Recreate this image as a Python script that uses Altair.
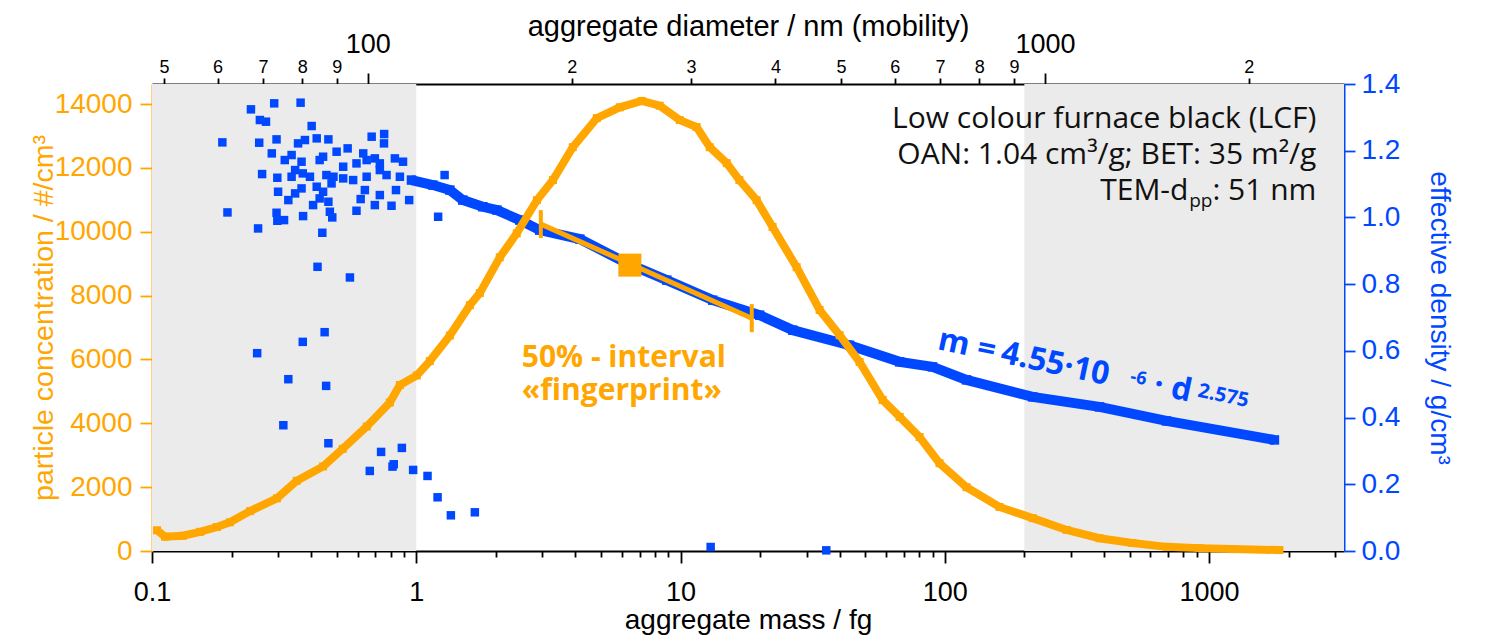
import altair as alt
import pandas as pd

# ---------------- data ----------------
# particle concentration (orange, left axis)
conc_mass = [0.1045, 0.112, 0.131, 0.152, 0.176, 0.197, 0.235, 0.297, 0.353, 0.444,
             0.527, 0.650, 0.794, 0.867, 1.005, 1.125, 1.34, 1.595, 1.74, 2.07,
             2.40, 2.86, 3.29, 3.91, 4.82, 5.89, 7.13, 8.34, 9.93, 11.5,
             12.9, 14.96, 16.7, 19.4, 22.3, 27.5, 33.6, 40.0, 47.6, 58.2,
             67.5, 80.3, 95.5, 120.8, 161, 215, 289, 385, 513, 690,
             920, 1225, 1846]
conc_vals = [650, 450, 480, 600, 750, 900, 1250, 1650, 2200, 2650,
             3200, 3900, 4650, 5200, 5500, 5950, 6750, 7700, 8080, 9200,
             9950, 10990, 11620, 12650, 13560, 13900, 14100, 13950, 13500, 13280,
             12650, 12150, 11620, 10990, 10150, 8890, 7550, 6760, 5920, 4730,
             4200, 3570, 2750, 2000, 1380, 1030, 660, 400, 250, 130,
             90, 60, 30]

# effective density, smooth part (blue, right axis)
rho_curve_mass = [0.959, 1.156, 1.34, 1.50, 1.786, 2.02, 2.465, 2.93, 4.16, 6.26,
                  8.87, 13.24, 19.93, 26.6, 43.6, 67.5, 89.9, 120.8, 215, 385,
                  690, 1767]
rho_curve_vals = [1.112, 1.097, 1.082, 1.052, 1.032, 1.022, 0.992, 0.962, 0.935, 0.863,
                  0.812, 0.752, 0.707, 0.662, 0.617, 0.567, 0.552, 0.513, 0.462, 0.432,
                  0.390, 0.333]

# effective density, scattered points
rho_scatter_mass = [0.1846, 0.193, 0.2368, 0.290, 0.365, 0.256, 0.270, 0.2545, 0.296, 0.284,
                    0.261, 0.298, 0.300, 0.296, 0.298, 0.316, 0.252, 0.402, 0.318, 0.3375,
                    0.357, 0.379, 0.420, 0.465, 0.4995, 0.550, 0.678, 0.756, 0.755, 0.630,
                    0.368, 0.348, 0.3375, 0.372, 0.396, 0.431, 0.444, 0.457, 0.486, 0.478,
                    0.529, 0.529, 0.577, 0.594, 0.649, 0.697, 0.728, 0.649, 0.728, 0.772,
                    0.830, 0.891, 0.867, 0.420, 0.444, 0.431, 0.407, 0.465, 0.471, 0.481,
                    0.328, 0.348, 0.368, 0.373, 0.441, 0.594, 0.616, 0.639, 0.697, 0.728,
                    0.806, 0.838, 0.940, 0.423, 0.561, 0.250, 0.328, 0.372, 0.450, 0.456,
                    0.314, 0.465, 0.667, 0.736, 0.813, 0.822, 0.882, 0.973, 1.103, 1.204,
                    1.352, 1.666, 13.0, 35.6, 1.28, 1.21]
rho_scatter_vals = [1.225, 1.015, 1.324, 1.342, 1.344, 1.292, 1.287, 1.224, 1.234, 1.192,
                    1.130, 1.119, 1.077, 1.014, 0.990, 0.992, 0.967, 1.274, 1.172, 1.187,
                    1.222, 1.232, 1.237, 1.234, 1.197, 1.207, 1.242, 1.250, 1.222, 1.192,
                    1.167, 1.142, 1.122, 1.132, 1.122, 1.172, 1.182, 1.127, 1.122, 1.102,
                    1.152, 1.117, 1.112, 1.162, 1.172, 1.177, 1.162, 1.122, 1.142, 1.127,
                    1.177, 1.167, 1.122, 1.092, 1.077, 1.057, 1.037, 1.047, 1.017, 1.000,
                    1.052, 1.072, 1.087, 1.004, 0.954, 1.020, 1.055, 1.082, 1.037, 1.067,
                    1.035, 1.082, 1.052, 0.852, 0.820, 0.593, 0.515, 0.627, 0.656, 0.495,
                    0.377, 0.323, 0.240, 0.297, 0.253, 0.260, 0.309, 0.243, 0.225, 0.161,
                    0.107, 0.116, 0.012, 0.002, 1.127, 1.002]

# 50 % interval ("fingerprint") on the density curve
fp_mass = [2.96, 18.6]
fp_rho = [0.980, 0.698]
fp_median_mass = [6.43]
fp_median_rho = [0.857]

# shaded mass ranges
shade_start = [0.1, 200]
shade_end = [1, 3240]

# axes
mass_domain = [0.1, 3240]
conc_domain = [0, 14630]
rho_domain = [0, 1.4]
diam_domain = [48.0, 2765]
mass_ticks = [round(k * 10 ** e, 6) for e in range(-1, 4) for k in range(1, 10) if k * 10 ** e <= 3000]
mass_decades = [0.1, 1, 10, 100, 1000]
conc_ticks = [0, 2000, 4000, 6000, 8000, 10000, 12000, 14000]
rho_ticks = [0.0, 0.2, 0.4, 0.6, 0.8, 1.0, 1.2, 1.4]
diam_ticks = [50, 60, 70, 80, 90, 100, 200, 300, 400, 500, 600, 700, 800, 900, 1000, 2000]

# annotation texts
info_lines = ["Low colour furnace black (LCF)", "OAN: 1.04 cm³/g; BET: 35 m²/g"]
info_mass = [2547, 2547]
info_conc = [13248, 12120]
tem_parts = ["TEM-d", "pp", ": 51 nm"]
tem_conc = [10993]
fp_lines = ["50% - interval", "«fingerprint»"]
fp_text_mass = [2.508, 2.508]
fp_text_conc = [5763, 4729]
eq_parts = ["m =", "4.55·10", "-6", "· d", "2.575"]
eq_mass = [93.1, 161.2, 500, 610, 900]
eq_conc = [6326, 5913, 5300, 4926, 4840]
eq_sizes = [32, 32, 18, 32, 20]

# ---------------- styling ----------------
ORANGE = "#FFA600"
BLUE = "#0048FF"
AXF = "Liberation Sans"
TXF = "Open Sans"
W, H = 1192, 467

def xs():
    return alt.Scale(type="log", domain=mass_domain, nice=False)

def x_enc(field, axis=None):
    return alt.X(field, type="quantitative", scale=xs(), axis=axis)

def yc(field, axis=None):
    return alt.Y(field, type="quantitative",
                 scale=alt.Scale(domain=conc_domain, nice=False, zero=False), axis=axis)

def yr(field, axis=None):
    return alt.Y(field, type="quantitative",
                 scale=alt.Scale(domain=rho_domain, nice=False, zero=False), axis=axis)

dec_list = ", ".join(str(v) for v in mass_decades)
dec_test = f"indexof([{dec_list}], datum.value) >= 0"
bottom_axis = alt.Axis(
    orient="bottom", values=mass_ticks, grid=False, labelFlush=False,
    labelExpr=f"{dec_test} ? format(datum.value, '~g') : ''",
    tickSize={"condition": {"test": dec_test, "value": 12}, "value": 6},
    tickColor="black", tickWidth=1.8, domainColor="black", domainWidth=2,
    labelColor="black", labelFont=AXF, labelFontSize=27, labelPadding=16,
    title="aggregate mass / fg", titleFont=AXF, titleFontSize=28, titleFontWeight="normal",
    titleColor="black", titleY=77, titleBaseline="alphabetic",
)

top_test = "datum.value == 100 || datum.value == 1000"
top_axis = alt.Axis(
    orient="top", values=diam_ticks, grid=False, labelFlush=False,
    labelExpr=f"{top_test} ? format(datum.value, 'd') : format(datum.value / pow(10, floor(log(datum.value) / LN10 + 1e-9)), 'd')",
    tickSize={"condition": {"test": top_test, "value": 11}, "value": 6},
    labelFontSize={"condition": {"test": top_test, "value": 27}, "value": 18},
    labelPadding={"condition": {"test": top_test, "value": 15}, "value": 2},
    tickColor="black", tickWidth=1.8, domainColor="black", domainWidth=2,
    labelColor="black", labelFont=AXF,
    title="aggregate diameter / nm (mobility)", titleFont=AXF, titleFontSize=29,
    titleFontWeight="normal", titleColor="black", titleY=-49, titleBaseline="alphabetic",
)

left_axis = alt.Axis(
    orient="left", values=conc_ticks, format="d", grid=False, labelFlush=False,
    tickSize=12, tickColor=ORANGE, tickWidth=1.8, domainColor=ORANGE, domainWidth=2,
    labelColor=ORANGE, labelFont=AXF, labelFontSize=28, labelPadding=8,
    title="particle concentration / #/cm³", titleFont=AXF, titleFontSize=28.5,
    titleFontWeight="normal", titleColor=ORANGE, titleAngle=-90, titleX=-100,
    titleBaseline="alphabetic",
)

right_axis = alt.Axis(
    orient="right", values=rho_ticks, format=".1f", grid=False, labelFlush=False,
    tickSize=11, tickColor=BLUE, tickWidth=1.8, domainColor=BLUE, domainWidth=2,
    labelColor=BLUE, labelFont=AXF, labelFontSize=28, labelPadding=6,
    title="effective density / g/cm³", titleFont=AXF, titleFontSize=28,
    titleFontWeight="normal", titleColor=BLUE, titleAngle=90, titleX=86,
    titleBaseline="alphabetic",
)

# ---------------- layers ----------------
conc_df = pd.DataFrame({"m": conc_mass, "c": conc_vals})
curve_df = pd.DataFrame({"m": rho_curve_mass, "r": rho_curve_vals})
scat_df = pd.DataFrame({"m": rho_scatter_mass, "r": rho_scatter_vals})
fp_df = pd.DataFrame({"m": fp_mass, "r": fp_rho})
fpm_df = pd.DataFrame({"m": fp_median_mass, "r": fp_median_rho})
shade_df = pd.DataFrame({"a": shade_start, "b": shade_end})

shade = alt.Chart(shade_df).mark_rect(color="#EBEBEB").encode(
    x=x_enc("a", bottom_axis), x2="b", y=alt.value(0), y2=alt.value("height"))

blue_scatter = alt.Chart(scat_df).mark_square(color=BLUE, size=72, opacity=1).encode(
    x=x_enc("m"), y=yr("r"))
blue_line = alt.Chart(curve_df).mark_line(color=BLUE, strokeWidth=10).encode(
    x=x_enc("m"), y=yr("r", right_axis))
blue_pts = alt.Chart(curve_df).mark_square(color=BLUE, size=90, opacity=1).encode(
    x=x_enc("m"), y=yr("r"))

orange_line = alt.Chart(conc_df).mark_line(color=ORANGE, strokeWidth=8).encode(
    x=x_enc("m"), y=yc("c", left_axis))
orange_pts = alt.Chart(conc_df).mark_square(color=ORANGE, size=64, opacity=1).encode(
    x=x_enc("m"), y=yc("c"))

fp_line = alt.Chart(fp_df).mark_line(color=ORANGE, strokeWidth=5).encode(
    x=x_enc("m"), y=yr("r"))
fp_ticks = alt.Chart(fp_df).mark_tick(color=ORANGE, orient="vertical", size=28,
                                      thickness=4, opacity=1).encode(
    x=x_enc("m"), y=yr("r"))
fp_med = alt.Chart(fpm_df).mark_square(color=ORANGE, size=530, opacity=1).encode(
    x=x_enc("m"), y=yr("r"))

info_df = pd.DataFrame({"m": info_mass, "c": info_conc, "t": info_lines})
info = alt.Chart(info_df).mark_text(align="right", baseline="alphabetic", font=TXF,
                                    fontSize=30, color="#111111").encode(
    x=x_enc("m"), y=yc("c"), text="t:N")

tem_df = pd.DataFrame({"m": [info_mass[0]], "c": tem_conc})
tem_main = alt.Chart(tem_df).mark_text(align="right", baseline="alphabetic", font=TXF,
                                       fontSize=30, color="#111111").encode(
    x=x_enc("m"), y=yc("c"), text=alt.value(tem_parts[2]))
tem_sub = alt.Chart(tem_df).mark_text(align="right", baseline="alphabetic", font=TXF,
                                      fontSize=19, color="#111111", dx=-104, dy=7).encode(
    x=x_enc("m"), y=yc("c"), text=alt.value(tem_parts[1]))
tem_head = alt.Chart(tem_df).mark_text(align="right", baseline="alphabetic", font=TXF,
                                       fontSize=30, color="#111111", dx=-128).encode(
    x=x_enc("m"), y=yc("c"), text=alt.value(tem_parts[0]))

fp_txt_df = pd.DataFrame({"m": fp_text_mass, "c": fp_text_conc, "t": fp_lines})
fp_txt = alt.Chart(fp_txt_df).mark_text(align="left", baseline="alphabetic", font=TXF,
                                        fontSize=30, fontWeight="bold", color=ORANGE).encode(
    x=x_enc("m"), y=yc("c"), text="t:N")

eq_layers = []
for part, em, ec, fs in zip(eq_parts, eq_mass, eq_conc, eq_sizes):
    d = pd.DataFrame({"m": [em], "c": [ec]})
    eq_layers.append(
        alt.Chart(d).mark_text(align="left", baseline="alphabetic", font=TXF, fontSize=fs,
                               fontWeight="bold", color=BLUE, angle=12).encode(
            x=x_enc("m"), y=yc("c"), text=alt.value(part)))

top_df = pd.DataFrame({"d": diam_ticks})
top = alt.Chart(top_df).mark_point(opacity=0).encode(
    x=alt.X("d:Q", scale=alt.Scale(type="log", domain=diam_domain, nice=False), axis=top_axis))

chart = alt.layer(
    shade, blue_scatter, blue_line, blue_pts, orange_line, orange_pts,
    fp_line, fp_ticks, fp_med, info, tem_main, tem_sub, tem_head, fp_txt,
    *eq_layers, top,
).resolve_scale(x="independent", y="independent").properties(
    width=W, height=H,
    autosize=alt.AutoSizeParams(type="none"),
    padding={"left": 144, "top": 76, "right": 125, "bottom": 90},
    background="white",
).configure_view(stroke=None)

chart.save("out.html", embed_options={"renderer": "svg", "actions": False})
